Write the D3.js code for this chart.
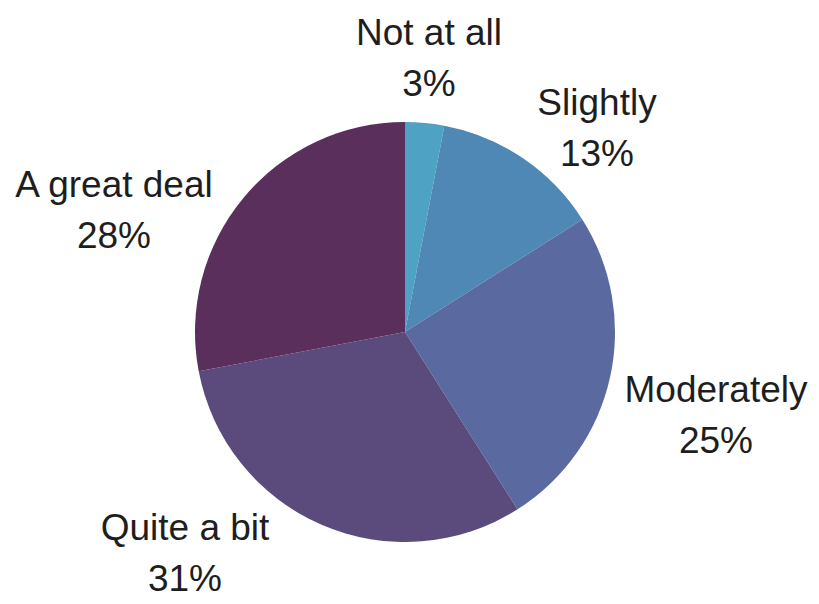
<!DOCTYPE html>
<html lang="en">
	<head>
		<meta charset="utf-8">
		<title>D3: Pie chart</title>
		<script type="text/javascript" src="https://cdn.jsdelivr.net/npm/d3@7/dist/d3.min.js"></script>
		<style type="text/css">
			body {
				margin: 0;
				background-color: white;
			}
			.label {
				font-family: "Liberation Sans", Arial, sans-serif;
				font-size: 37px;
				fill: #1e1e1e;
			}
		</style>
	</head>
	<body>
		<script type="text/javascript">

			//Data
			var categories = ["Not at all", "Slightly", "Moderately", "Quite a bit", "A great deal"];
			var values = [3, 13, 25, 31, 28];
			var colors = ["#4ea2c3", "#4f87b5", "#5a699f", "#5b4a7c", "#5a2f5c"];

			//Width and height
			var w = 819;
			var h = 604;
			var cx = 405;
			var cy = 332;
			var radius = 210;
			var lineGap = 51;

			//Label placement (centre x, first baseline y), per slice
			var labelPos = [
				[429, 45],
				[597, 115],
				[716, 402],
				[185, 540],
				[114, 197]
			];

			var slices = categories.map(function(c, i) {
				return { name: c, value: values[i], index: i };
			});

			var pie = d3.pie()
						.sort(null)
						.value(function(d) { return d.value; });

			var arc = d3.arc()
						.innerRadius(0)
						.outerRadius(radius);

			var color = d3.scaleOrdinal()
						  .domain(categories)
						  .range(colors);

			//Create SVG element
			var svg = d3.select("body")
						.append("svg")
						.attr("width", w)
						.attr("height", h);

			var g = svg.append("g")
					   .attr("transform", "translate(" + cx + "," + cy + ")");

			g.selectAll("path")
			 .data(pie(slices))
			 .enter()
			 .append("path")
			 .attr("d", arc)
			 .attr("fill", function(d) { return color(d.data.name); });

			//Labels
			var labels = svg.selectAll("text.label")
							.data(slices)
							.enter()
							.append("text")
							.attr("class", "label")
							.attr("text-anchor", "middle")
							.attr("x", function(d) { return labelPos[d.index][0]; })
							.attr("y", function(d) { return labelPos[d.index][1]; });

			labels.append("tspan")
				  .attr("x", function(d) { return labelPos[d.index][0]; })
				  .text(function(d) { return d.name; });

			labels.append("tspan")
				  .attr("x", function(d) { return labelPos[d.index][0]; })
				  .attr("dy", lineGap)
				  .text(function(d) { return d.value + "%"; });

		</script>
	</body>
</html>
